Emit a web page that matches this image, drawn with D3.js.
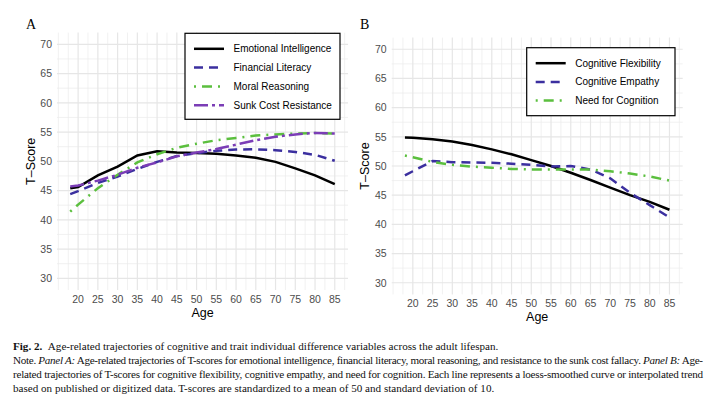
<!DOCTYPE html>
<html>
<head>
<meta charset="utf-8">
<script src="https://cdn.jsdelivr.net/npm/d3@7"></script>
<style>
  body { margin: 0; background: #fff; }
  svg { display: block; }
  .tick-label { font-family: "Liberation Sans", Arial, sans-serif; font-size: 10.5px; fill: #4d4d4d; }
  .axis-title { font-family: "Liberation Sans", Arial, sans-serif; font-size: 12.5px; fill: #000; }
  .legend-text { font-family: "Liberation Sans", Arial, sans-serif; font-size: 10px; fill: #000; }
  .panel-tag { font-family: "Liberation Serif", "Times New Roman", serif; font-size: 14px; fill: #000; }
  .caption { font-family: "Liberation Serif", "Times New Roman", serif; font-size: 11.1px; fill: #111; }
</style>
</head>
<body>
<div id="container"></div>
<script>
// width and height
var width = 720;
var height = 397;

// data (T-scores by age)
var ages = [18, 20, 25, 30, 35, 40, 45, 50, 55, 60, 65, 70, 75, 80, 85];

// panel A
var emotionalIntelligence = [45.4, 45.6, 47.6, 49.1, 51.0, 51.7, 51.5, 51.4, 51.3, 51.0, 50.6, 49.9, 48.8, 47.6, 46.1];
var financialLiteracy     = [44.4, 44.9, 46.3, 47.4, 48.7, 49.9, 50.9, 51.4, 51.8, 52.0, 52.05, 51.9, 51.6, 51.1, 50.1];
var moralReasoning        = [41.4, 42.6, 45.4, 47.7, 49.8, 51.2, 52.3, 53.0, 53.6, 54.0, 54.4, 54.6, 54.75, 54.85, 54.75];
var sunkCostResistance    = [45.7, 45.85, 46.7, 47.7, 48.9, 49.8, 50.85, 51.5, 52.1, 52.85, 53.6, 54.2, 54.6, 54.85, 54.75];

// panel B
var cognitiveFlexibility = [54.9, 54.85, 54.6, 54.2, 53.6, 52.85, 52.0, 51.0, 50.0, 48.85, 47.6, 46.3, 45.0, 43.85, 42.5];
var cognitiveEmpathy     = [48.4, 49.1, 50.85, 50.65, 50.6, 50.55, 50.4, 50.2, 49.9, 50.0, 49.4, 47.9, 45.4, 43.3, 41.2];
var needForCognition     = [51.8, 51.5, 50.7, 50.2, 49.9, 49.7, 49.5, 49.4, 49.4, 49.4, 49.4, 49.1, 48.7, 48.2, 47.5];

// series names
var namesA = ["Emotional Intelligence", "Financial Literacy", "Moral Reasoning", "Sunk Cost Resistance"];
var namesB = ["Cognitive Flexibility", "Cognitive Empathy", "Need for Cognition"];

// tick labels
var xTicks = [20, 25, 30, 35, 40, 45, 50, 55, 60, 65, 70, 75, 80, 85];
var yTicks = [30, 35, 40, 45, 50, 55, 60, 65, 70];

// line styles (ggplot linetypes)
var styles = {
  "solid":    { color: "#000000", dash: null },
  "dashed":   { color: "#3b2f9f", dash: "9,6" },
  "dotdash":  { color: "#5bbf3e", dash: "2,6,10,6" },
  "twodash":  { color: "#7b3db6", dash: "14,4,3,4" }
};

var svg = d3.select("#container")
            .append("svg")
            .attr("width", width)
            .attr("height", height);

drawPanel({
  tag: "A", left: 57, right: 348, top: 32.6, bottom: 290,
  series: [emotionalIntelligence, financialLiteracy, moralReasoning, sunkCostResistance],
  names: namesA,
  types: ["solid", "dashed", "dotdash", "twodash"],
  legend: { x: 185, y: 33.3, w: 155, h: 86, row: 18.8 },
  yTitleX: 31
});

drawPanel({
  tag: "B", left: 391.7, right: 682.7, top: 37.6, bottom: 294.4,
  series: [cognitiveFlexibility, cognitiveEmpathy, needForCognition],
  names: namesB,
  types: ["solid", "dashed", "dotdash"],
  legend: { x: 526.7, y: 47.7, w: 148.3, h: 68, row: 18.7 },
  yTitleX: 365
});

function drawPanel(p) {
  var x = d3.scaleLinear().domain([14.65, 88.35]).range([p.left, p.right]);
  var y = d3.scaleLinear().domain([28, 72]).range([p.bottom, p.top]);

  var g = svg.append("g");

  // minor grid
  var xMinor = d3.range(15, 88, 2.5).filter(function(d) { return xTicks.indexOf(d) < 0; });
  var yMinor = d3.range(30, 71, 2.5).filter(function(d) { return yTicks.indexOf(d) < 0; });

  g.selectAll(".xminor").data(xMinor).enter().append("line")
    .attr("x1", function(d) { return x(d); }).attr("x2", function(d) { return x(d); })
    .attr("y1", p.top).attr("y2", p.bottom)
    .attr("stroke", "#ebebeb").attr("stroke-width", 0.7);
  g.selectAll(".yminor").data(yMinor).enter().append("line")
    .attr("x1", p.left).attr("x2", p.right)
    .attr("y1", function(d) { return y(d); }).attr("y2", function(d) { return y(d); })
    .attr("stroke", "#ebebeb").attr("stroke-width", 0.7);

  // major grid
  g.selectAll(".xmajor").data(xTicks).enter().append("line")
    .attr("x1", function(d) { return x(d); }).attr("x2", function(d) { return x(d); })
    .attr("y1", p.top).attr("y2", p.bottom)
    .attr("stroke", "#e6e6e6").attr("stroke-width", 1.2);
  g.selectAll(".ymajor").data(yTicks).enter().append("line")
    .attr("x1", p.left).attr("x2", p.right)
    .attr("y1", function(d) { return y(d); }).attr("y2", function(d) { return y(d); })
    .attr("stroke", "#e6e6e6").attr("stroke-width", 1.2);

  // tick labels
  g.selectAll(".xlab").data(xTicks).enter().append("text")
    .attr("class", "tick-label")
    .attr("x", function(d) { return x(d); })
    .attr("y", p.bottom + 13)
    .attr("text-anchor", "middle")
    .text(function(d) { return d; });
  g.selectAll(".ylab").data(yTicks).enter().append("text")
    .attr("class", "tick-label")
    .attr("x", p.left - 5)
    .attr("y", function(d) { return y(d) + 3.8; })
    .attr("text-anchor", "end")
    .text(function(d) { return d; });

  // axis titles
  g.append("text")
    .attr("class", "axis-title")
    .attr("x", (p.left + p.right) / 2)
    .attr("y", p.bottom + 27)
    .attr("text-anchor", "middle")
    .text("Age");
  g.append("text")
    .attr("class", "axis-title")
    .attr("transform", "translate(" + (p.yTitleX + 4) + "," + ((p.top + p.bottom) / 2) + ") rotate(-90)")
    .attr("text-anchor", "middle")
    .text("T\u2013Score");

  // panel tag
  g.append("text")
    .attr("class", "panel-tag")
    .attr("x", p.tag === "A" ? 26 : 360)
    .attr("y", 29)
    .text(p.tag);

  // lines
  var line = d3.line()
    .x(function(d, i) { return x(ages[i]); })
    .y(function(d) { return y(d); });

  p.series.forEach(function(s, i) {
    var st = styles[p.types[i]];
    g.append("path")
      .datum(s)
      .attr("d", line)
      .attr("fill", "none")
      .attr("stroke", st.color)
      .attr("stroke-width", 2.5)
      .attr("stroke-dasharray", st.dash);
  });

  // legend
  var L = p.legend;
  var lg = g.append("g").attr("transform", "translate(" + L.x + "," + L.y + ")");
  lg.append("rect")
    .attr("width", L.w).attr("height", L.h)
    .attr("fill", "#fff").attr("stroke", "#000").attr("stroke-width", 1.2);
  p.names.forEach(function(n, i) {
    var st = styles[p.types[i]];
    var ry = 15.5 + i * L.row;
    lg.append("line")
      .attr("x1", 9).attr("x2", 39)
      .attr("y1", ry).attr("y2", ry)
      .attr("stroke", st.color).attr("stroke-width", 2.5)
      .attr("stroke-dasharray", st.dash);
    lg.append("text")
      .attr("class", "legend-text")
      .attr("x", 48.5)
      .attr("y", ry + 3.6)
      .text(n);
  });
}

// caption
var cap = svg.append("g").attr("class", "caption");
var l1 = cap.append("text").attr("x", 13).attr("y", 349.5);
l1.append("tspan").attr("font-weight", "bold").text("Fig. 2.");
l1.append("tspan").text("\u2002Age-related trajectories of cognitive and trait individual difference variables across the adult lifespan.");

var l2 = cap.append("text").attr("x", 13).attr("y", 363.5)
  .attr("textLength", 690).attr("lengthAdjust", "spacing");
l2.append("tspan").text("Note. ");
l2.append("tspan").attr("font-style", "italic").text("Panel A:");
l2.append("tspan").text(" Age-related trajectories of T-scores for emotional intelligence, financial literacy, moral reasoning, and resistance to the sunk cost fallacy. ");
l2.append("tspan").attr("font-style", "italic").text("Panel B:");
l2.append("tspan").text(" Age-");

cap.append("text").attr("x", 13).attr("y", 377.5)
  .attr("textLength", 690).attr("lengthAdjust", "spacing")
  .text("related trajectories of T-scores for cognitive flexibility, cognitive empathy, and need for cognition. Each line represents a loess-smoothed curve or interpolated trend");

cap.append("text").attr("x", 13).attr("y", 391.5)
  .text("based on published or digitized data. T-scores are standardized to a mean of 50 and standard deviation of 10.");
</script>
</body>
</html>
